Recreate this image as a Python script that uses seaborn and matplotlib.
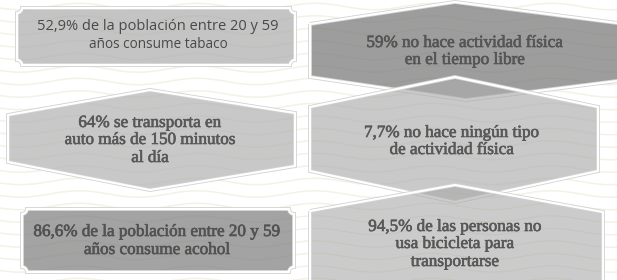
import numpy as np
import matplotlib
matplotlib.use('Agg')
import matplotlib.pyplot as plt
import matplotlib.patheffects as pe
from matplotlib.patches import Polygon
import seaborn as sns

# datos del infográfico
porcentajes = ['52,9%', '59%', '64%', '7,7%', '86,6%', '94,5%']
lineas = [
    ['52,9% de la población entre 20 y 59', 'años consume tabaco'],
    ['59% no hace actividad física', 'en el tiempo libre'],
    ['64% se transporta en', 'auto más de 150 minutos', 'al día'],
    ['7,7% no hace ningún tipo', 'de actividad física'],
    ['86,6% de la población entre 20 y 59', 'años consume acohol'],
    ['94,5% de las personas no', 'usa bicicleta para', 'transportarse'],
]

sns.set_theme(style='white')
plt.rcParams['font.family'] = ['Liberation Serif', 'DejaVu Serif']

fig = plt.figure(figsize=(6.17, 2.80), dpi=100)
ax = fig.add_axes([0, 0, 1, 1])
ax.set_xlim(0, 617)
ax.set_ylim(280, 0)
ax.axis('off')
fig.patch.set_facecolor('white')

# fondo ondulado
xw = np.linspace(0, 617, 400)
for y0 in np.arange(-6, 292, 12.5):
    ax.plot(xw, y0 + 3.2 * np.sin(2 * np.pi * xw / 118 + 0.5), color='#f3f2e6', lw=1.1, zorder=0)


def borde(lw=1.6):
    return [pe.Stroke(linewidth=lw + 1.2, foreground='#d2d2d2'), pe.Normal()]


def placa(x0, y0, x1, y1, r=5):
    t = np.linspace(0, np.pi / 2, 8)
    pts = [(x0, y0 + r)] + [(x0 + r * np.sin(a), y0 + r * np.cos(a)) for a in t] + [(x1 - r, y0)]
    pts += [(x1 - r * np.cos(a), y0 + r * np.sin(a)) for a in t]
    pts += [(x1, y1 - r)] + [(x1 - r * np.sin(a), y1 - r * np.cos(a)) for a in t]
    pts += [(x0 + r * np.cos(a), y1 - r * np.sin(a)) for a in t]
    return pts


def forma(pts, color, alpha, z):
    p = Polygon(pts, closed=True, facecolor=color, alpha=alpha, edgecolor='none', zorder=z)
    ax.add_patch(p)
    e = Polygon(pts, closed=True, facecolor='none', edgecolor='white', lw=1.6, zorder=z + 0.1)
    e.set_path_effects(borde())
    ax.add_patch(e)


# columna izquierda
forma(placa(17, 8, 295, 65), '#ababab', 0.7, 2)
forma([(8, 115), (150, 90), (295, 113), (295, 166), (150, 190), (8, 162)], '#b1b1b1', 0.7, 2)
forma(placa(22, 209, 294, 272), '#7c7c7c', 0.7, 2)

# columna derecha
forma([(310, 24), (455, 2), (625, 24), (625, 80), (466, 100), (310, 77)], '#747474', 0.7, 2)
forma([(310, 107), (455, 77), (598, 107), (598, 171), (455, 202), (310, 171)], '#adadad', 0.66, 3)
forma([(310, 211), (455, 185), (603, 212), (603, 295), (310, 295)], '#a8a8a8', 0.59, 4)


def grueso(c):
    return [pe.Stroke(linewidth=0.45, foreground=c), pe.Normal()]


# textos
sans = ['Open Sans', 'DejaVu Sans']
ax.text(158, 27, lineas[0][0], family=sans, fontsize=10.5, color='#4a4a4a', ha='center', va='center', zorder=10)
ax.text(158, 44, lineas[0][1], family=sans, fontsize=9.8, color='#4a4a4a', ha='center', va='center', zorder=10)

posiciones = [None, (465, [43, 60]), (150, [123, 140, 158]), (452, [133, 150]),
              (157, [232, 250]), (455, [227, 244, 262])]
colores = [None, '#555555', '#585858', '#585858', '#525252', '#585858']
for i in range(1, 6):
    cx, ys = posiciones[i]
    for txt, y in zip(lineas[i], ys):
        ax.text(cx, y, txt, fontsize=12.3, color=colores[i], ha='center', va='center', zorder=10,
                path_effects=grueso(colores[i]))

fig.savefig('out.png', dpi=100)
